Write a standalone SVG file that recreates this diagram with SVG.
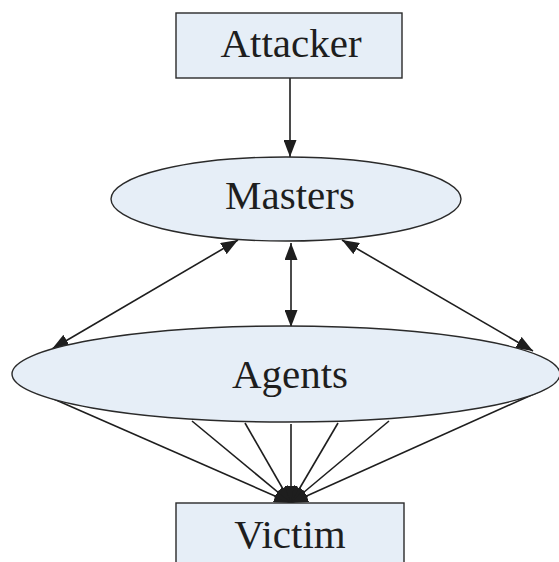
<svg xmlns="http://www.w3.org/2000/svg" width="559" height="562" viewBox="0 0 559 562">
  <style>
    .box { fill: #e6eef7; stroke: #2a2a2a; stroke-width: 1.4; }
    .lbl { font-family: "Liberation Serif", "Times New Roman", serif; font-size: 41px; fill: #1e1e1e; text-anchor: middle; }
    .edge { stroke: #1e1e1e; stroke-width: 1.6; fill: none; }
  </style>
  <defs>
    <marker id="arrow" viewBox="0 0 17 13" refX="17" refY="6.5" markerWidth="17" markerHeight="13" markerUnits="userSpaceOnUse" orient="auto-start-reverse">
      <path d="M0,0 L17,6.5 L0,13 Z" fill="#1e1e1e"/>
    </marker>
  </defs>

  <rect width="559" height="562" fill="#ffffff"/>

  <!-- connectors -->
  <g id="connectors">
    <line class="edge" x1="290" y1="78" x2="290" y2="157" marker-end="url(#arrow)"/>
    <line class="edge" x1="291" y1="243" x2="291" y2="327" marker-start="url(#arrow)" marker-end="url(#arrow)"/>
    <line class="edge" x1="238" y1="240" x2="52" y2="349" marker-start="url(#arrow)" marker-end="url(#arrow)"/>
    <line class="edge" x1="342" y1="240" x2="533" y2="351" marker-start="url(#arrow)" marker-end="url(#arrow)"/>
    <!-- fan of agents to the victim -->
    <line class="edge" x1="40" y1="393" x2="291" y2="503" marker-end="url(#arrow)"/>
    <line class="edge" x1="192" y1="421" x2="291" y2="503" marker-end="url(#arrow)"/>
    <line class="edge" x1="245" y1="423" x2="291" y2="503" marker-end="url(#arrow)"/>
    <line class="edge" x1="291" y1="424" x2="291" y2="503" marker-end="url(#arrow)"/>
    <line class="edge" x1="338" y1="423" x2="291" y2="503" marker-end="url(#arrow)"/>
    <line class="edge" x1="389" y1="421" x2="291" y2="503" marker-end="url(#arrow)"/>
    <line class="edge" x1="545" y1="389" x2="291" y2="503" marker-end="url(#arrow)"/>
  </g>

  <g id="attacker">
    <rect class="box" x="176" y="13" width="226" height="65"/>
    <text class="lbl" x="291" y="57">Attacker</text>
  </g>

  <g id="masters">
    <ellipse class="box" cx="286" cy="199" rx="175" ry="42"/>
    <text class="lbl" x="290" y="209">Masters</text>
  </g>

  <g id="agents">
    <ellipse class="box" cx="286" cy="374" rx="274" ry="48"/>
    <text class="lbl" x="290" y="388">Agents</text>
  </g>

  <g id="victim">
    <rect class="box" x="176" y="503" width="228" height="70"/>
    <text class="lbl" x="290" y="548">Victim</text>
  </g>
</svg>
